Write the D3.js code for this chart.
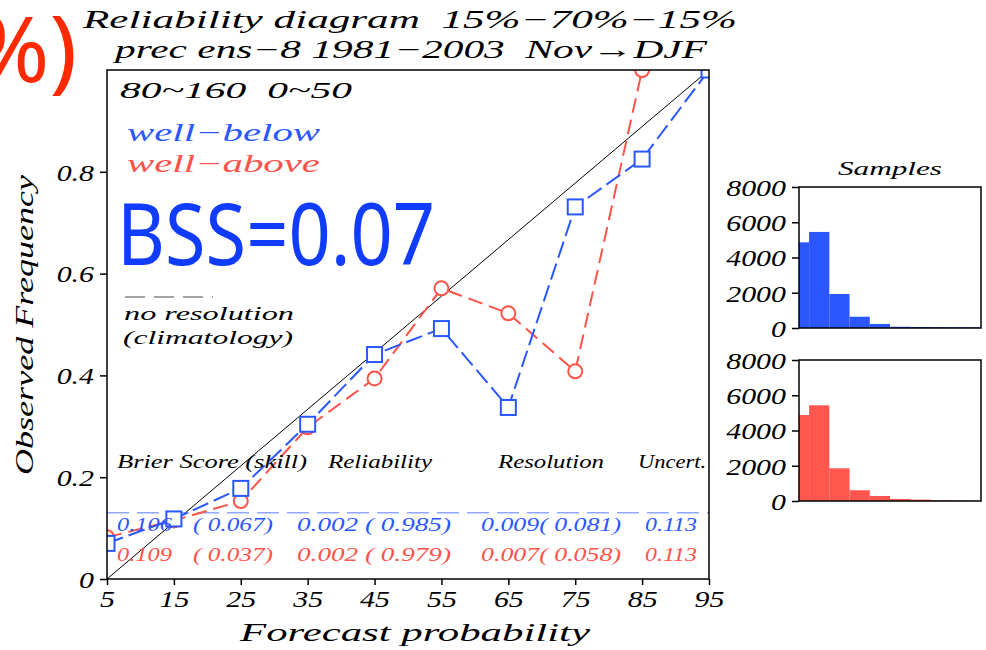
<!DOCTYPE html>
<html><head><meta charset="utf-8">
<script src="https://cdn.jsdelivr.net/npm/d3@7"></script>
<style>body{margin:0;background:#fff} text{white-space:pre}</style></head>
<body>
<svg id="c" width="986" height="650"></svg>
<script>
// ---- data ----
const probs = [5, 15, 25, 35, 45, 55, 65, 75, 85, 95];
const wellBelowObs = [0.070, 0.118, 0.178, 0.304, 0.441, 0.492, 0.337, 0.731, 0.825, 1.0];
const wellAboveObs = [0.082, 0.115, 0.153, 0.298, 0.394, 0.571, 0.522, 0.408, 1.0, null];
const wellBelowCounts = [4860, 5450, 1930, 640, 230, 70, 60, 50, 45, 40];
const wellAboveCounts = [4880, 5430, 1855, 610, 285, 115, 80, 40, 20, 0];
const yTicks = [0, 0.2, 0.4, 0.6, 0.8];
const yTickLabels = ["0", "0.2", "0.4", "0.6", "0.8"];
const histTicks = [0, 2000, 4000, 6000, 8000];
const climatology = 0.13;
const scoreHeaders = ["Brier Score (skill)", "Reliability", "Resolution", "Uncert."];
const wellBelowScores = ["0.106", "( 0.067)", "0.002 ( 0.985)", "0.009( 0.081)", "0.113"];
const wellAboveScores = ["0.109", "( 0.037)", "0.002 ( 0.979)", "0.007( 0.058)", "0.113"];
const titleLines = ["Reliability diagram  15%\u221270%\u221215%", "prec ens\u22128 1981\u22122003  Nov\u2192DJF"];

// ---- style ----
const BLUE = "#2a57ff", RED = "#ff5249", BLUEBAR = "#2c56ff", REDBAR = "#ff574e";
const FONT = "'Liberation Serif', 'DejaVu Serif', serif";

const svg = d3.select("#c");
function txt(g, s, x, y, o = {}) {
  const t = g.append("text").attr("x", x).attr("y", y).text(s)
    .attr("font-family", o.family || FONT)
    .attr("font-style", o.italic === false ? "normal" : "italic")
    .attr("font-size", o.size || 22)
    .attr("fill", o.fill || "#000")
    .attr("text-anchor", o.anchor || "start");
  if (o.weight) t.attr("font-weight", o.weight);
  if (o.w) t.attr("textLength", o.w).attr("lengthAdjust", "spacingAndGlyphs");
  else if (o.sx) { const L = t.node().getComputedTextLength(); t.attr("textLength", L * o.sx).attr("lengthAdjust", "spacingAndGlyphs"); }
  return t;
}

// ---- main reliability plot ----
const M = {l: 107, r: 709, t: 70, b: 579};
const x = d3.scaleLinear().domain([5, 95]).range([M.l, M.r]);
const y = d3.scaleLinear().domain([0, 1]).range([M.b, M.t]);

svg.append("defs").append("clipPath").attr("id", "clipMain")
  .append("rect").attr("x", M.l).attr("y", M.t).attr("width", M.r - M.l).attr("height", M.b - M.t);

const plot = svg.append("g").attr("clip-path", "url(#clipMain)");

// perfect reliability diagonal
plot.append("line").attr("x1", x(5)).attr("y1", y(0)).attr("x2", x(95)).attr("y2", y(1))
  .attr("stroke", "#000").attr("stroke-width", 1);

// climatology (no resolution) line
plot.append("line").attr("x1", M.l).attr("x2", M.r).attr("y1", y(climatology)).attr("y2", y(climatology))
  .attr("stroke", "#5a7dff").attr("stroke-width", 1).attr("stroke-dasharray", "22,8");

const line = d3.line().defined(d => d[1] != null).x(d => x(d[0])).y(d => y(d[1]));
const redPts = probs.map((p, i) => [p, wellAboveObs[i]]);
const bluePts = probs.map((p, i) => [p, wellBelowObs[i]]);

plot.append("path").datum(redPts).attr("d", line).attr("fill", "none")
  .attr("stroke", RED).attr("stroke-width", 2).attr("stroke-dasharray", "15,7");
plot.append("path").datum(bluePts).attr("d", line).attr("fill", "none")
  .attr("stroke", BLUE).attr("stroke-width", 2).attr("stroke-dasharray", "17,6");

plot.selectAll("circle.red").data(redPts.filter(d => d[1] != null)).enter().append("circle")
  .attr("cx", d => x(d[0])).attr("cy", d => y(d[1])).attr("r", 7)
  .attr("fill", "#fff").attr("stroke", RED).attr("stroke-width", 2);
plot.selectAll("rect.blue").data(bluePts).enter().append("rect")
  .attr("x", d => x(d[0]) - 7.5).attr("y", d => y(d[1]) - 7.5).attr("width", 15).attr("height", 15)
  .attr("fill", "#fff").attr("stroke", BLUE).attr("stroke-width", 2);

// frame
svg.append("rect").attr("x", M.l).attr("y", M.t).attr("width", M.r - M.l).attr("height", M.b - M.t)
  .attr("fill", "none").attr("stroke", "#000").attr("stroke-width", 1.5);

// axes
const yAx = svg.append("g").attr("transform", `translate(${M.l},0)`)
  .call(d3.axisLeft(y).tickValues(yTicks).tickSize(7).tickFormat((d, i) => yTickLabels[i]));
yAx.select(".domain").remove();
yAx.selectAll("line").attr("stroke-width", 1.5);
yAx.selectAll("text").attr("font-family", FONT).attr("font-style", "italic").attr("font-size", 23)
  .attr("fill", "#000").attr("x", -13).attr("dy", "0.36em")
  .each(function () { const L = this.getComputedTextLength(); d3.select(this).attr("textLength", L * 1.3).attr("lengthAdjust", "spacingAndGlyphs"); });

const xAx = svg.append("g").attr("transform", `translate(0,${M.b})`)
  .call(d3.axisBottom(x).tickValues(probs).tickSize(6).tickFormat(d3.format("d")));
xAx.select(".domain").remove();
xAx.selectAll("line").attr("stroke-width", 1.5);
xAx.selectAll("text").attr("font-family", FONT).attr("font-style", "italic").attr("font-size", 23)
  .attr("fill", "#000").attr("y", 12).attr("dy", "0.71em")
  .each(function () { const L = this.getComputedTextLength(); d3.select(this).attr("textLength", L * 1.3).attr("lengthAdjust", "spacingAndGlyphs"); });

// titles
txt(svg, titleLines[0], 83, 28, {size: 25, w: 654});
txt(svg, titleLines[1], 115, 58, {size: 25, w: 592});
txt(svg, "Forecast probability", 415, 641, {size: 25, w: 350, anchor: "middle"});
txt(svg, "Observed Frequency", 0, 0, {size: 25, w: 300, anchor: "middle"})
  .attr("transform", "translate(33,325) rotate(-90)");

// in-plot labels
txt(svg, "80~160  0~50", 120, 98, {size: 23, w: 232});
txt(svg, "well\u2212below", 127, 141, {size: 25, w: 193, fill: BLUE});
txt(svg, "well\u2212above", 127, 172, {size: 25, w: 193, fill: RED});
txt(svg, "BSS=0.07", 117, 265, {size: 85, w: 318, italic: false, family: "'Noto Sans', 'Open Sans', sans-serif", fill: "#0f3cff"});
svg.append("line").attr("x1", 125).attr("x2", 213).attr("y1", 297).attr("y2", 297)
  .attr("stroke", "#888").attr("stroke-width", 1.5).attr("stroke-dasharray", "20,9");
txt(svg, "no resolution", 124, 320, {size: 19, w: 170});
txt(svg, "(climatology)", 123, 344, {size: 19, w: 170});

// score table
const headX = [117, 328, 498, 638], headW = [190, 104, 106, 68];
scoreHeaders.forEach((s, i) => txt(svg, s, headX[i], 468, {size: 18, w: headW[i]}));
const colX = [117, 193, 297, 481, 645], colW = [55, 80, 154, 140, 52];
wellBelowScores.forEach((s, i) => txt(svg, s, colX[i], 531, {size: 18, w: colW[i], fill: BLUE}));
wellAboveScores.forEach((s, i) => txt(svg, s, colX[i], 561, {size: 18, w: colW[i], fill: RED}));

// ---- sample histograms ----
const hx = d3.scaleLinear().domain([5, 95]).range([799, 981]);
function hist(top, bottom, counts, color, id) {
  const hy = d3.scaleLinear().domain([0, 8000]).range([bottom, top]);
  svg.append("defs").append("clipPath").attr("id", id)
    .append("rect").attr("x", 799).attr("y", top).attr("width", 182).attr("height", bottom - top);
  svg.append("g").attr("clip-path", `url(#${id})`).selectAll("rect").data(counts).enter().append("rect")
    .attr("x", (d, i) => hx(probs[i] - 5)).attr("width", hx(15) - hx(5))
    .attr("y", d => hy(d)).attr("height", d => bottom - hy(d)).attr("fill", color);
  svg.append("rect").attr("x", 799).attr("y", top).attr("width", 182).attr("height", bottom - top)
    .attr("fill", "none").attr("stroke", "#000").attr("stroke-width", 1.5);
  const ax = svg.append("g").attr("transform", "translate(799,0)")
    .call(d3.axisLeft(hy).tickValues(histTicks).tickSize(7).tickFormat(d3.format("d")));
  ax.select(".domain").remove();
  ax.selectAll("line").attr("stroke-width", 1.5);
  ax.selectAll("text").attr("font-family", FONT).attr("font-style", "italic").attr("font-size", 23)
    .attr("fill", "#000").attr("x", -13).attr("dy", "0.36em")
    .each(function () { const L = this.getComputedTextLength(); d3.select(this).attr("textLength", L * 1.3).attr("lengthAdjust", "spacingAndGlyphs"); });
}
hist(187, 328, wellBelowCounts, BLUEBAR, "h1");
hist(360, 501, wellAboveCounts, REDBAR, "h2");
txt(svg, "Samples", 890, 175, {size: 19, w: 104, anchor: "middle"});

// overlay fragment at top-left
txt(svg, "%)", 77, 82, {size: 92, italic: false, family: "'Noto Sans', sans-serif", fill: "#ff2a00", anchor: "end"});
</script>
</body></html>
